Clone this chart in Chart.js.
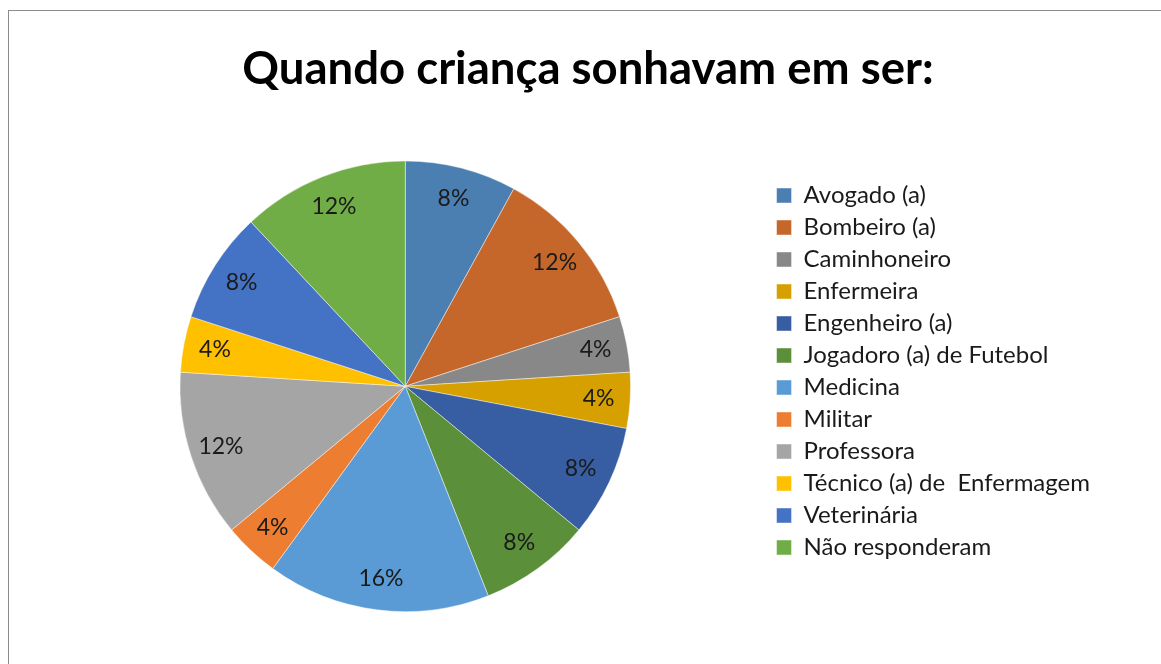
<!DOCTYPE html>
<html>
<head>
<meta charset="utf-8">
<script src="https://cdn.jsdelivr.net/npm/chart.js@4"></script>
<style>
  html, body { margin: 0; padding: 0; background: #fff; overflow: hidden; }
  #frame {
    position: absolute; left: 8px; top: 10px;
    width: 1158px; height: 654px;
    border-left: 1px solid #8c8c8c; border-top: 1px solid #8c8c8c;
  }
  #chart { display: block; }
</style>
</head>
<body>
<div id="frame">
  <canvas id="chart" width="1158" height="654"></canvas>
</div>
<script>
const categories = [
    'Avogado (a)', 'Bombeiro (a)', 'Caminhoneiro', 'Enfermeira',
    'Engenheiro (a)', 'Jogadoro (a) de Futebol', 'Medicina', 'Militar',
    'Professora', 'Técnico (a) de  Enfermagem', 'Veterinária', 'Não responderam'
];
const percentages = [8, 12, 4, 4, 8, 8, 16, 4, 12, 4, 8, 12];
const sliceColors = [
    '#4c7fb1', '#c5672a', '#888888', '#d5a000',
    '#375da2', '#5b8f3a', '#5b9bd5', '#ed7d31',
    '#a5a5a5', '#ffc000', '#4472c4', '#70ad47'
];

const fontFamily = 'Lato, "Open Sans", sans-serif';

// percentage labels drawn inside each slice
const sliceLabels = {
    id: 'sliceLabels',
    afterLayout(chart) {
        // center the title over the whole canvas, not the padded area
        chart.titleBlock.left = 0;
        chart.titleBlock.right = chart.width;
        chart.titleBlock.width = chart.width;
    },
    afterDatasetsDraw(chart) {
        const ctx = chart.ctx;
        const meta = chart.getDatasetMeta(0);
        ctx.save();
        ctx.font = '23px ' + fontFamily;
        ctx.fillStyle = '#1a1a1a';
        ctx.textAlign = 'center';
        ctx.textBaseline = 'middle';
        meta.data.forEach((arc, i) => {
            const p = arc.getProps(['x', 'y', 'startAngle', 'endAngle', 'outerRadius']);
            const mid = (p.startAngle + p.endAngle) / 2;
            const r = p.outerRadius * 0.86;
            ctx.fillText(percentages[i] + '%', p.x + Math.cos(mid) * r, p.y + Math.sin(mid) * r);
        });
        ctx.restore();
    }
};

const ctx = document.getElementById('chart').getContext('2d');

new Chart(ctx, {
    type: 'pie',
    data: {
        labels: categories,
        datasets: [{
            data: percentages,
            backgroundColor: sliceColors,
            borderColor: 'rgba(255,255,255,0.6)',
            borderWidth: 0.75
        }]
    },
    options: {
        responsive: false,
        animation: false,
        layout: { padding: { left: 33, right: 67, top: 0, bottom: 53 } },
        plugins: {
            title: {
                display: true,
                text: 'Quando criança sonhavam em ser:',
                color: '#000',
                font: { family: fontFamily, size: 45.5, weight: 'bold' },
                padding: { top: 31, bottom: 64 }
            },
            legend: {
                position: 'right',
                align: 'center',
                // empty legend title only pushes the entries down
                title: { display: true, text: ' ', font: { size: 10 }, padding: { top: 108, bottom: 0 } },
                labels: {
                    color: '#1a1a1a',
                    font: { family: fontFamily, size: 24 },
                    boxWidth: 15,
                    boxHeight: 15,
                    padding: 8
                }
            },
            tooltip: { enabled: false }
        }
    },
    plugins: [sliceLabels]
});
</script>
</body>
</html>
